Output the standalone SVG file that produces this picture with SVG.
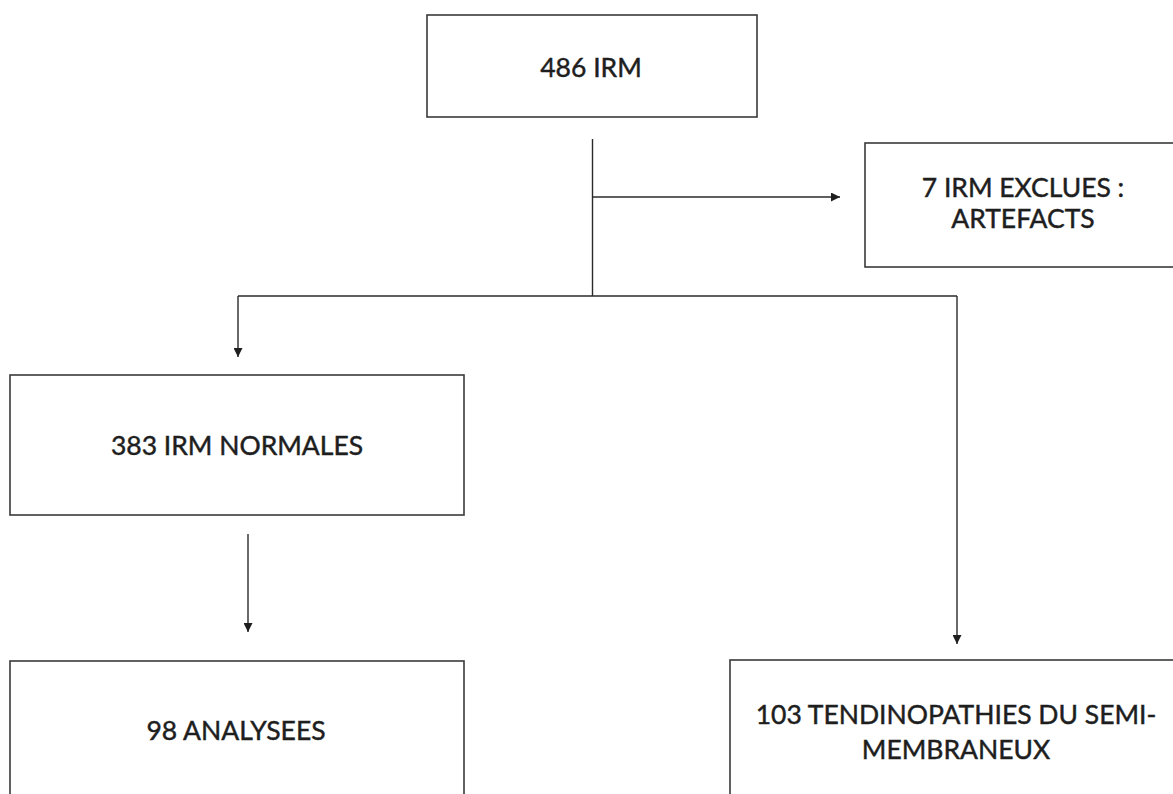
<svg xmlns="http://www.w3.org/2000/svg" width="1173" height="794" viewBox="0 0 1173 794">
<defs>
<style>
.box{fill:#fff;stroke:#3a3a3a;stroke-width:1.6}
.ln{fill:none;stroke:#2a2a2a;stroke-width:1.4}
.t{font-family:Lato,"Open Sans",sans-serif;font-size:26.5px;fill:#1e1e1e;stroke:#1e1e1e;stroke-width:0.45;text-anchor:middle}
</style>
<marker id="ah" viewBox="0 0 10 10" refX="10" refY="5" markerWidth="10" markerHeight="9" markerUnits="userSpaceOnUse" orient="auto">
<path d="M0,0 L10,5 L0,10 z" fill="#1e1e1e"/>
</marker>
</defs>
<rect width="1173" height="794" fill="#fff"/>
<g id="connectors">
<line class="ln" x1="592.5" y1="139" x2="592.5" y2="296"/>
<line class="ln" x1="592.5" y1="197" x2="840" y2="197" marker-end="url(#ah)"/>
<line class="ln" x1="238" y1="296" x2="957" y2="296"/>
<line class="ln" x1="238" y1="296" x2="238" y2="357" marker-end="url(#ah)"/>
<line class="ln" x1="957" y1="296" x2="957" y2="644" marker-end="url(#ah)"/>
<line class="ln" x1="248" y1="534" x2="248" y2="632" marker-end="url(#ah)"/>
</g>
<g id="n1"><rect class="box" x="427" y="15" width="330" height="102"/><text class="t" x="591" y="77">486 IRM</text></g>
<g id="n2"><rect class="box" x="865" y="143" width="320" height="124"/><text class="t" x="1023" y="197">7 IRM EXCLUES :</text><text class="t" x="1023" y="228">ARTEFACTS</text></g>
<g id="n3"><rect class="box" x="10" y="375" width="454" height="140"/><text class="t" x="237" y="455">383 IRM NORMALES</text></g>
<g id="n4"><rect class="box" x="10" y="661" width="454" height="150"/><text class="t" x="236" y="740">98 ANALYSEES</text></g>
<g id="n5"><rect class="box" x="730" y="660" width="455" height="150"/><text class="t" x="956" y="724">103 TENDINOPATHIES DU SEMI-</text><text class="t" x="956" y="759">MEMBRANEUX</text></g>
</svg>
